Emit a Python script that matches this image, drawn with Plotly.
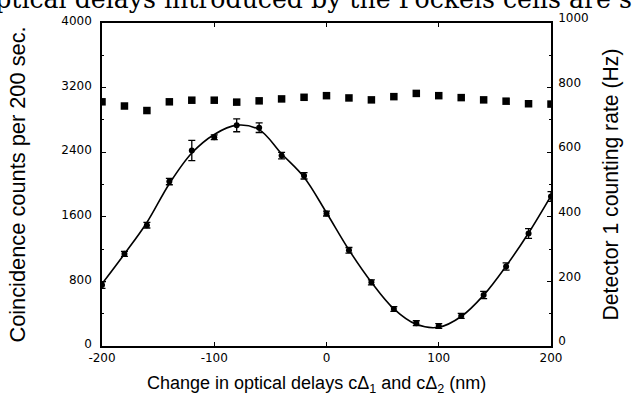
import plotly.graph_objects as go

# Data
delay_nm = [-200, -180, -160, -140, -120, -100, -80, -60, -40, -20, 0,
            20, 40, 60, 80, 100, 120, 140, 160, 180, 200]
coinc_counts = [754, 1141, 1496, 2037, 2421, 2585, 2733, 2704, 2358, 2108, 1640,
                1185, 788, 458, 283, 248, 373, 631, 985, 1394, 1852]
coinc_err = [40, 30, 35, 40, 125, 30, 80, 60, 40, 40, 30,
             35, 30, 30, 30, 30, 30, 45, 45, 60, 60]
fit_counts = [770, 1140, 1530, 2010, 2390, 2620, 2735, 2680, 2380, 2090, 1650,
              1190, 790, 460, 268, 232, 365, 630, 990, 1400, 1860]
det1_rate = [756, 743, 729, 756, 761, 761, 755, 759, 765, 770, 775,
             768, 762, 772, 782, 775, 769, 762, 758, 750, 749]

left_ticks = [0, 800, 1600, 2400, 3200, 4000]
right_ticks = [0, 200, 400, 600, 800, 1000]
x_ticks = [-200, -100, 0, 100, 200]

TICKFONT = dict(family="DejaVu Sans", size=12, color="black")
TITLEFONT = "Liberation Sans"

fig = go.Figure()

fig.add_trace(go.Scatter(
    x=delay_nm, y=fit_counts, mode="lines",
    line=dict(color="black", width=1.6, shape="spline", smoothing=1.0),
    hoverinfo="skip", showlegend=False))

fig.add_trace(go.Scatter(
    x=delay_nm, y=coinc_counts, mode="markers",
    marker=dict(symbol="circle", size=6, color="black"),
    error_y=dict(type="data", array=coinc_err, visible=True,
                 color="black", thickness=1.3, width=3.5),
    showlegend=False))

fig.add_trace(go.Scatter(
    x=delay_nm, y=det1_rate, mode="markers", yaxis="y2",
    marker=dict(symbol="square", size=7.5, color="black"),
    showlegend=False))

fig.update_layout(
    width=632, height=405,
    margin=dict(l=102, r=81, t=23, b=59),
    paper_bgcolor="white", plot_bgcolor="white",
    xaxis=dict(
        range=[-200, 200], tickvals=x_ticks,
        ticktext=[str(v) if v >= 0 else "-" + str(-v) for v in x_ticks],
        ticks="inside", ticklen=4, tickwidth=1, tickcolor="black",
        showline=True, linecolor="black", linewidth=1.5, mirror="ticks",
        showgrid=False, zeroline=False, tickfont=TICKFONT,
        ticklabelstandoff=0,
    ),
    yaxis=dict(
        range=[0, 4000], tickvals=left_ticks,
        ticks="inside", ticklen=4, tickwidth=1, tickcolor="black",
        minor=dict(dtick=400, ticks="inside", ticklen=2, tickcolor="black"),
        showline=True, linecolor="black", linewidth=1.5,
        showgrid=False, zeroline=False, tickfont=TICKFONT,
        ticklabelstandoff=6, ticklabelshift=-2,
        title=dict(text="Coincidence counts per 200 sec.",
                   font=dict(family=TITLEFONT, size=21.8, color="black"),
                   standoff=30),
    ),
    yaxis2=dict(
        range=[0, 1000], tickvals=right_ticks, overlaying="y", side="right",
        ticks="inside", ticklen=4, tickwidth=1, tickcolor="black",
        minor=dict(dtick=100, ticks="inside", ticklen=2, tickcolor="black"),
        showline=True, linecolor="black", linewidth=1.5,
        showgrid=False, zeroline=False, tickfont=TICKFONT,
        ticklabelstandoff=3, ticklabelshift=-5,
        title=dict(text="Detector 1 counting rate (Hz)",
                   font=dict(family=TITLEFONT, size=21.2, color="black"),
                   standoff=15),
    ),
    annotations=[
        dict(text="optical delays introduced by the Pockels cells are s",
             xref="paper", yref="paper", x=-0.276, y=1.073,
             xanchor="left", yanchor="middle", showarrow=False,
             font=dict(family="DejaVu Serif", size=25.2, color="black")),
        dict(text="Change in optical delays cΔ<sub>1</sub> and cΔ<sub>2</sub> (nm)",
             xref="paper", yref="paper", x=(316 - 102) / 449, y=-(384 - 346) / 323,
             xanchor="center", yanchor="middle", showarrow=False,
             font=dict(family=TITLEFONT, size=18, color="black")),
    ],
)

fig.write_html("out.html", config={"displayModeBar": False},
               post_script="document.body.style.margin='0';")
